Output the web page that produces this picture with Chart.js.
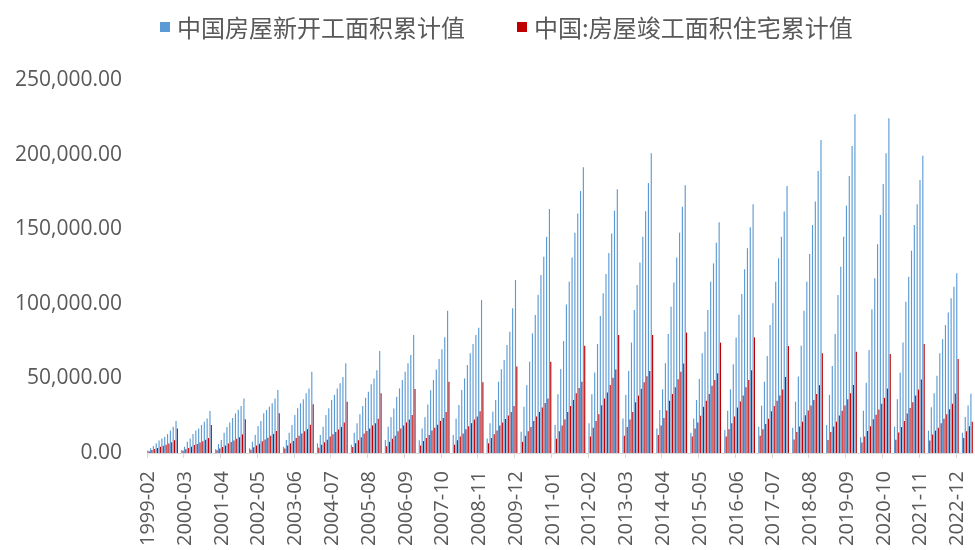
<!DOCTYPE html>
<html>
<head>
<meta charset="utf-8">
<script src="https://cdn.jsdelivr.net/npm/chart.js@4.4.0/dist/chart.umd.min.js"></script>
<style>
  html, body { margin: 0; padding: 0; background: #ffffff; }
  #wrap { position: relative; width: 975px; height: 550px; }
  canvas { position: absolute; left: 0; top: 0; }
  .lg-box { position: absolute; width: 10px; height: 10px; top: 22px; }
  .lg-text { position: absolute; top: 15px; font-family: "Noto Sans CJK SC", sans-serif; font-size: 24px; line-height: 24px; color: #595959; white-space: nowrap; }
</style>
</head>
<body>
<div id="wrap">
  <canvas id="c" width="975" height="550"></canvas>
  <div class="lg-box" style="left:160px;background:#5B9BD5"></div>
  <div class="lg-text" id="lg1" style="left:177px"></div>
  <div class="lg-box" style="left:517px;background:#C00000"></div>
  <div class="lg-text" id="lg2" style="left:534px"></div>
</div>
<script>
// Series names
const seriesNames = ['中国房屋新开工面积累计值', '中国:房屋竣工面积住宅累计值'];

// Years covered (monthly cumulative values Feb..Dec; January not published)
const years = [1999, 2000, 2001, 2002, 2003, 2004, 2005, 2006, 2007, 2008, 2009, 2010,
               2011, 2012, 2013, 2014, 2015, 2016, 2017, 2018, 2019, 2020, 2021, 2022, 2023];

// 房屋新开工面积累计值 (Feb..Dec per year)
const starts = [
  [1600, 3100, 4700, 6500, 8300, 9800, 10900, 12700, 15000, 17600, 21500],
  [2000, 4200, 7600, 9800, 12700, 15000, 16500, 18800, 21000, 23200, 28200],
  [2500, 6000, 8700, 13500, 17500, 20500, 23500, 26500, 29000, 31500, 36500],
  [3100, 7600, 12000, 18100, 21400, 26600, 28800, 31000, 33300, 36600, 42200],
  [4200, 8700, 13600, 18800, 25500, 30000, 33300, 36000, 40000, 43300, 54500],
  [6500, 12000, 17600, 25500, 30000, 35500, 38900, 43300, 46700, 51000, 60100],
  [5500, 13500, 19900, 26000, 31500, 37000, 41000, 46000, 50000, 55500, 68400],
  [8700, 17600, 23900, 29900, 37700, 43300, 48900, 54500, 60100, 65700, 79100],
  [8500, 16500, 24000, 32500, 42000, 49000, 56000, 63000, 69500, 77500, 95400],
  [12000, 23200, 32200, 42200, 50000, 59000, 66800, 73100, 79100, 84000, 102500],
  [9800, 19900, 27700, 35500, 47800, 56100, 62300, 72400, 81300, 97000, 116000],
  [14300, 31000, 45600, 61200, 80200, 92500, 106000, 119300, 131600, 145000, 163600],
  [18800, 39300, 56300, 75100, 99600, 114800, 131100, 147700, 160600, 175600, 191500],
  [19900, 39300, 54000, 73100, 91800, 107000, 120000, 134000, 147200, 162400, 176700],
  [23200, 38900, 55000, 74000, 95900, 112600, 127600, 145000, 162000, 181000, 200900],
  [16500, 28800, 42700, 60100, 79800, 98100, 114200, 131100, 147700, 165100, 179400],
  [13600, 23200, 35500, 49600, 66800, 81300, 95800, 114800, 127100, 141000, 154600],
  [15400, 28400, 42700, 59500, 77400, 92600, 106500, 123200, 137300, 151300, 166700],
  [17600, 31700, 47800, 65000, 85800, 100300, 114800, 130500, 145000, 161800, 179000],
  [17000, 34400, 51200, 71900, 95400, 114800, 133400, 152800, 168500, 189000, 209800],
  [18800, 38900, 58300, 79800, 105900, 124900, 145000, 165800, 185700, 205800, 227000],
  [10500, 28400, 47100, 69000, 96300, 117100, 139900, 159500, 180300, 200900, 224300],
  [17600, 36000, 53800, 74000, 101400, 118200, 135600, 152800, 166700, 183000, 199300],
  [15000, 30600, 40000, 51800, 66800, 76200, 85800, 94100, 103700, 111500, 120400],
  [13600, 24100, 31900, 39700]
];

// 房屋竣工面积:住宅 累计值 (Feb..Dec per year)
const completions = [
  [1200, 2000, 2700, 3300, 4200, 4800, 5500, 6300, 7200, 8600, 16500],
  [1500, 2500, 3300, 4200, 5300, 6100, 7000, 7900, 8800, 10000, 18800],
  [1800, 3000, 4000, 5000, 6300, 7300, 8300, 9500, 10500, 12500, 22600],
  [2200, 3800, 5000, 6200, 7800, 9000, 10200, 11500, 12800, 14800, 26600],
  [3000, 5000, 6500, 8000, 10000, 11500, 13000, 14500, 16000, 19000, 32600],
  [3500, 5500, 7200, 8800, 11000, 12500, 14000, 15800, 17500, 20500, 34400],
  [4000, 6500, 8500, 10500, 13000, 14800, 16500, 18500, 20000, 23000, 40000],
  [4500, 7500, 9500, 11500, 14500, 16500, 18500, 20500, 22500, 25500, 42900],
  [5000, 8000, 10000, 12000, 15000, 17000, 19000, 21500, 23500, 27500, 47800],
  [5500, 8500, 11000, 13000, 16000, 18000, 20000, 22500, 24500, 28000, 47400],
  [6500, 10000, 12500, 15000, 18500, 20500, 22800, 25200, 27500, 31500, 57900],
  [7500, 11500, 14500, 17500, 21500, 24500, 27500, 30500, 33500, 36600, 61200],
  [9500, 14500, 18500, 22500, 27500, 31500, 35500, 40000, 43500, 47800, 71900],
  [11000, 17000, 21500, 26000, 32000, 36500, 40500, 45500, 50500, 56000, 79100],
  [11500, 17500, 22500, 27500, 34000, 38500, 43000, 47500, 51500, 55000, 79100],
  [12000, 18500, 23500, 28500, 35000, 39500, 44000, 49500, 54500, 60000, 80700],
  [11000, 16500, 20500, 25000, 31000, 35000, 39500, 45000, 49000, 53400, 74000],
  [11000, 16000, 20000, 24500, 30500, 34500, 38500, 44000, 49000, 55500, 77500],
  [11500, 16000, 19500, 23000, 28000, 31500, 35000, 38500, 42500, 51000, 71700],
  [9000, 14000, 17700, 21000, 25300, 28500, 31800, 35500, 39500, 45500, 66800],
  [8700, 14000, 17800, 21000, 25200, 28400, 31800, 36000, 40000, 45600, 67900],
  [7100, 11000, 14800, 18000, 22600, 25700, 29100, 33000, 37000, 43300, 66400],
  [8900, 13800, 17400, 21500, 26500, 30100, 34000, 38500, 42500, 49300, 73000],
  [8400, 12400, 15000, 17000, 20000, 23000, 25900, 29300, 33000, 39800, 63000],
  [10000, 14500, 18000, 21000]
];

// Y-axis ticks
const yTicks = [0, 50000, 100000, 150000, 200000, 250000];

// Build the monthly category table (January kept as an empty slot)
const labels = [], startsSeries = [], complSeries = [];
years.forEach((y, i) => {
  if (i > 0) { labels.push(y + '-01'); startsSeries.push(null); complSeries.push(null); }
  starts[i].forEach((v, m) => {
    const mm = String(m + 2).padStart(2, '0');
    labels.push(y + '-' + mm);
    startsSeries.push(v);
    complSeries.push(completions[i][m]);
  });
});

document.getElementById('lg1').textContent = seriesNames[0];
document.getElementById('lg2').textContent = seriesNames[1];

const LABEL_STEP = 13;
const fmt = v => v.toLocaleString('en-US', { minimumFractionDigits: 2, maximumFractionDigits: 2 });

new Chart(document.getElementById('c'), {
  type: 'bar',
  data: {
    labels: labels,
    datasets: [
      { label: seriesNames[0], data: startsSeries, backgroundColor: '#5B9BD5', borderWidth: 0,
        categoryPercentage: 0.95, barPercentage: 0.85 },
      { label: seriesNames[1], data: complSeries, backgroundColor: '#C00000', borderWidth: 0,
        categoryPercentage: 0.95, barPercentage: 0.85 }
    ]
  },
  options: {
    responsive: false,
    animation: false,
    devicePixelRatio: 1,
    layout: { padding: { top: 80, right: 2, left: 0, bottom: 0 } },
    plugins: { legend: { display: false }, tooltip: { enabled: false }, title: { display: false } },
    scales: {
      x: {
        grid: {
          display: true,
          drawOnChartArea: false,
          drawTicks: true,
          tickLength: 5,
          offset: true,
          color: ctx => (ctx.index % LABEL_STEP === 0 ? '#d9d9d9' : 'rgba(0,0,0,0)')
        },
        border: { display: true, color: '#d9d9d9', width: 1 },
        ticks: {
          autoSkip: false,
          minRotation: 90,
          maxRotation: 90,
          padding: 13,
          color: '#595959',
          font: { family: 'Open Sans', size: 20 },
          callback: function (val, idx) { return idx % LABEL_STEP === 0 ? this.getLabelForValue(val) : ''; }
        },
        afterFit: s => { s.height = 97; s.paddingLeft = 0; s.paddingRight = 0; }
      },
      y: {
        min: 0,
        max: 250000,
        afterBuildTicks: s => { s.ticks = yTicks.map(v => ({ value: v })); },
        grid: { display: false, drawTicks: false },
        border: { display: false },
        ticks: {
          padding: 25,
          color: '#595959',
          font: { family: 'Open Sans', size: 21 },
          callback: v => fmt(v)
        },
        afterFit: s => { s.width = 147; }
      }
    }
  }
});
</script>
</body>
</html>
